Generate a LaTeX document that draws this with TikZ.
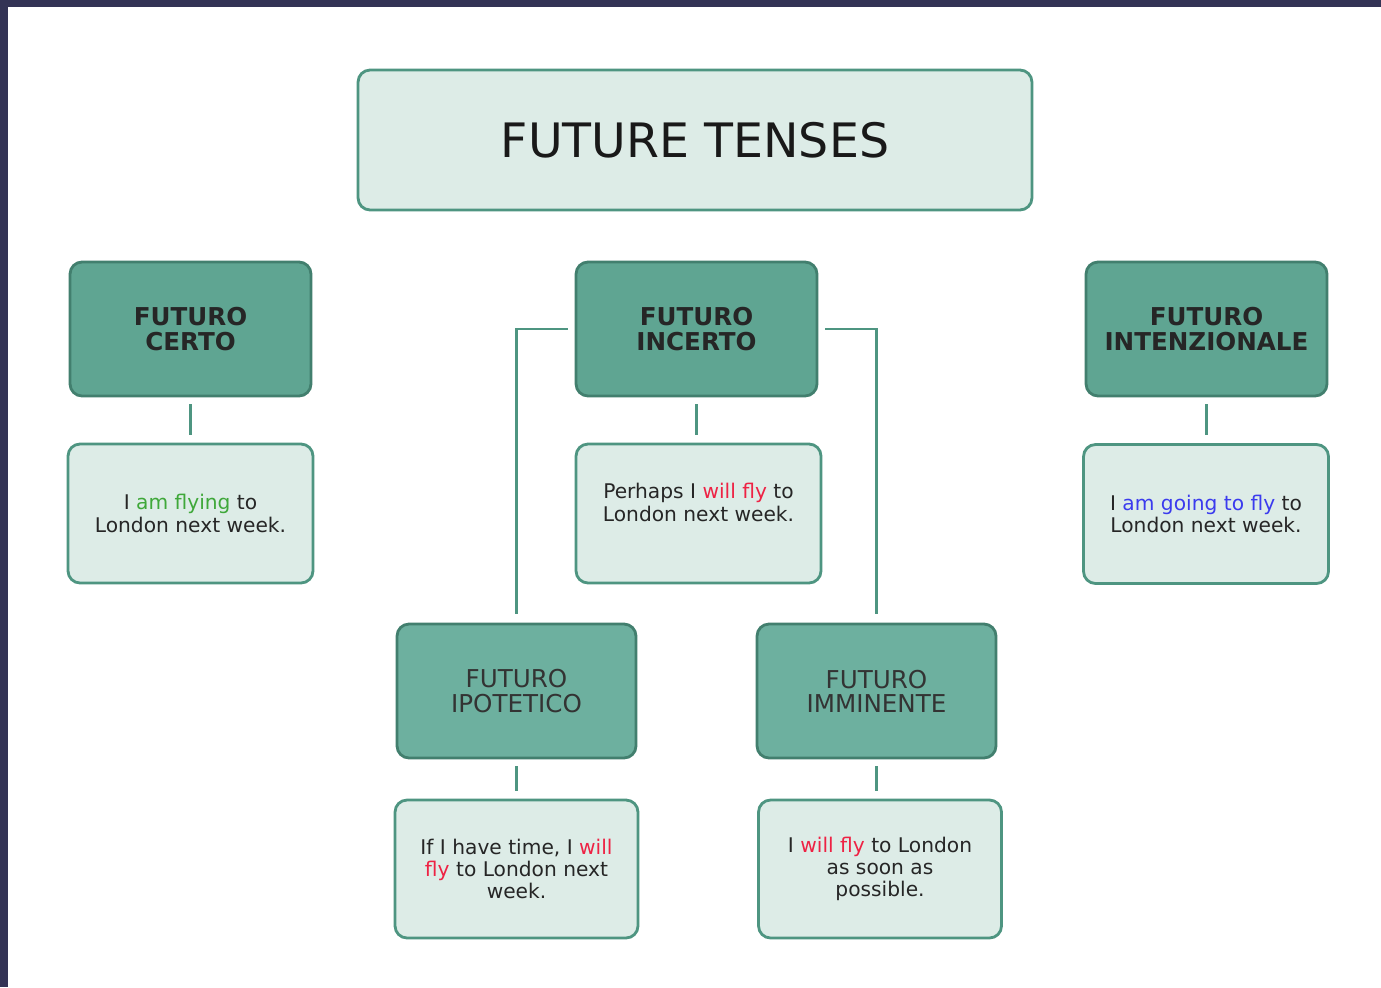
\documentclass[tikz,border=0pt]{standalone}
\usepackage{fontspec}
\setmainfont{DejaVu Sans}
\definecolor{frame}{HTML}{333355}
\definecolor{tealdark}{HTML}{5FA592}
\definecolor{tealmid}{HTML}{6DB09F}
\definecolor{tealline}{HTML}{4E9581}
\definecolor{paleteal}{HTML}{DDECE7}
\definecolor{flygreen}{HTML}{3FA83A}
\definecolor{flyred}{HTML}{EE2244}
\definecolor{flyblue}{HTML}{3B3BEE}
\tikzset{
  box/.style={rectangle, rounded corners=0.24cm, line width=1.6pt, align=center},
  tense/.style={box, fill=tealdark, draw=tealline!85!black, minimum width=4.82cm, minimum height=2.68cm,
    font=\bfseries\fontsize{14}{14.7}\selectfont, text=black!85},
  subtense/.style={box, fill=tealmid, draw=tealline!85!black, minimum width=4.78cm, minimum height=2.68cm,
    font=\fontsize{14}{13.8}\selectfont, text=black!80},
  example/.style={box, fill=paleteal, draw=tealline, minimum width=4.9cm, minimum height=2.78cm,
    font=\fontsize{11.5}{12.6}\selectfont, text=black!85},
  link/.style={draw=tealline, line width=1.6pt, shorten <=0.14cm, shorten >=0.16cm}
}

\begin{document}
\begin{tikzpicture}[x=0.02cm, y=-0.02cm]
\useasboundingbox (0,0) rectangle (1381,987);
\fill[frame] (0,0) rectangle (1381,987);
\fill[white] (8,7) rectangle (1381,987);

\node (title) [box, fill=paleteal, draw=tealline, minimum width=13.48cm, minimum height=2.8cm,
  font=\fontsize{27}{30}\selectfont, text=black!90] at (695,140) {FUTURE TENSES};

\node (certo) [tense] at (190.5,329) {FUTURO\\CERTO};
\node (incerto) [tense] at (696.5,329) {FUTURO\\INCERTO};
\node (intenz) [tense] at (1206.5,329) {FUTURO\\INTENZIONALE};

\node (certoex) [example] at (190.5,513.5) {I \textcolor{flygreen}{am flying} to\\London next week.};
\node (incertoex) [example, text depth=0.45cm] at (698.5,513.5) {Perhaps I \textcolor{flyred}{will fly} to\\London next week.};
\node (intenzex) [example] at (1206,514) {I \textcolor{flyblue}{am going to fly} to\\London next week.};

\node (ipot) [subtense] at (516.5,691) {FUTURO\\IPOTETICO};
\node (immin) [subtense] at (876.5,691) {FUTURO\\IMMINENTE};

\node (ipotex) [example, minimum width=4.86cm, minimum height=2.76cm] at (516.5,869)
  {If I have time, I \textcolor{flyred}{will}\\\textcolor{flyred}{fly} to London next\\week.};
\node (imminex) [example, minimum width=4.86cm, minimum height=2.76cm] at (880,869)
  {I \textcolor{flyred}{will fly} to London\\as soon as\\possible.};

\draw [link] (certo) -- (certoex);
\draw [link] (incerto.south) -- (incerto.south |- incertoex.north);
\draw [link] (intenz) -- (intenz.south |- intenzex.north);
\draw [link] (ipot) -- (ipotex);
\draw [link] (immin.south) -- (immin.south |- imminex.north);
\draw [link, shorten >=0.18cm] (incerto.west) -| (ipot.north);
\draw [link, shorten >=0.18cm] (incerto.east) -| (immin.north);
\end{tikzpicture}
\end{document}
